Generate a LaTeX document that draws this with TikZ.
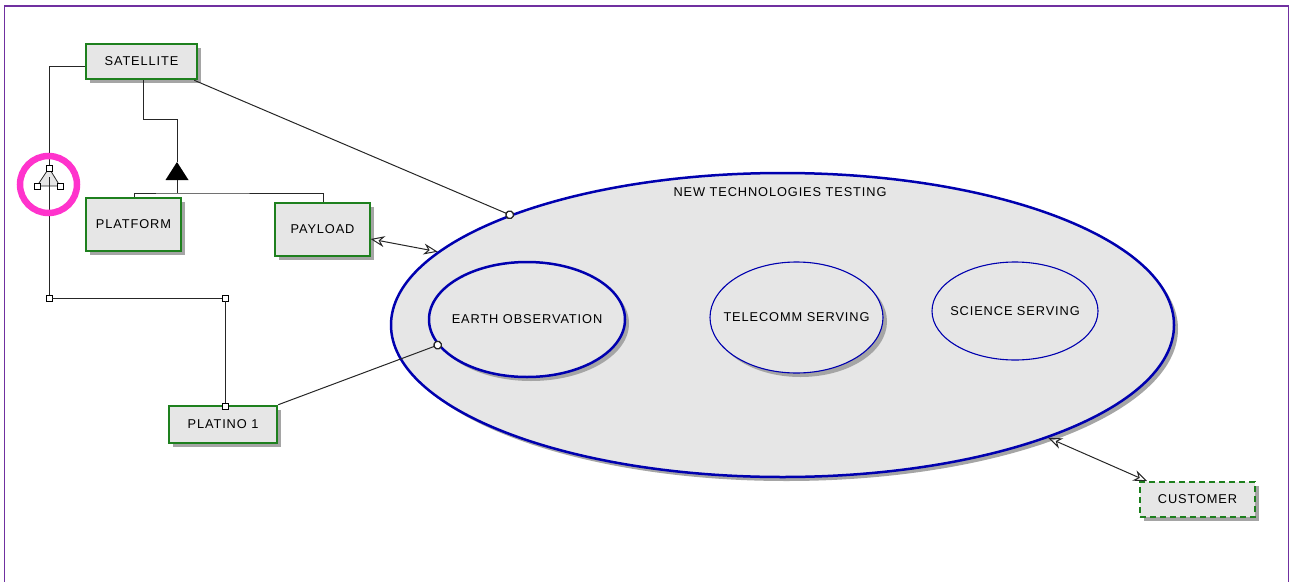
\documentclass[tikz,border=0pt]{standalone}
\usepackage{fontspec}
\setmainfont{Liberation Sans}[LetterSpace=7]
\usepackage{tikz}
\usetikzlibrary{shapes,arrows.meta,shadows,positioning}
\definecolor{umlgreen}{RGB}{30,128,30}
\definecolor{umlblue}{RGB}{0,0,175}
\definecolor{boxgray}{RGB}{230,230,230}
\definecolor{shadegray}{RGB}{165,165,165}
\definecolor{framepurple}{RGB}{112,48,160}
\definecolor{hilite}{RGB}{255,51,204}
\tikzset{
  shade4/.style={ drop shadow={shadow xshift=4pt, shadow yshift=-4pt, fill=shadegray, opacity=1} }
}
\tikzset{
  boxA/.style={ draw=umlgreen, line width=2.6pt, fill=boxgray, inner sep=0pt, shade4 }
}
\tikzset{
  boxB/.style={ draw=umlgreen, line width=1.2pt, fill=boxgray, inner sep=0pt, shade4 }
}
\tikzset{
  boxC/.style={ draw=umlgreen, line width=1.6pt, dash pattern=on 6pt off 4pt, fill=boxgray, inner sep=0pt, shade4 }
}
\tikzset{
  ellA/.style={ draw=umlblue, ellipse, line width=2.5pt, fill=boxgray, inner sep=0pt, shade4 }
}
\tikzset{
  ellB/.style={ draw=umlblue, ellipse, line width=1.1pt, fill=boxgray, inner sep=0pt }
}
\tikzset{
  sqpt/.style={ draw=black, fill=white, line width=0.7pt, minimum size=6pt, inner sep=0pt }
}
\tikzset{
  link/.style={ draw=black!85, line width=1pt }
}
\tikzset{
  oend/.style={ -{Circle[fill=white, length=9pt, line width=1.3pt]}, shorten >=-4.5pt }
}
\tikzset{
  bothopen/.style={ {Stealth[open, length=14pt, width=11pt]}-{Stealth[open, length=14pt, width=11pt]} }
}

\begin{document}
\begin{tikzpicture}[x=1pt, y=-1pt, every node/.style={font=\fontsize{12.8}{15}\selectfont}, every label/.style={font=\fontsize{12.8}{15}\selectfont}]
  \useasboundingbox (0,0) rectangle (1290,581);
  \draw[framepurple, line width=1.6pt] (4.5,585) -- (4.5,6) -- (1288.5,6) -- (1288.5,585);

  \node[ellA, minimum width=783pt, minimum height=304pt] (ntt) at (782.5,325) {};
  \node (nttlbl) at (780,192) {NEW TECHNOLOGIES TESTING};
  \node[ellA, minimum width=196pt, minimum height=115pt, label=center:EARTH OBSERVATION] (eo) at (527,319.5) {};
  \node[ellB, shade4, minimum width=173pt, minimum height=111pt, label=center:TELECOMM SERVING] (tel) at (796.5,317.5) {};
  \node[ellB, minimum width=166pt, minimum height=98pt, label=center:SCIENCE SERVING] (sci) at (1015,311) {};

  \node[boxA, minimum width=111pt, minimum height=35pt] (sat) at (141.5,61.5) {SATELLITE};
  \node[boxA, minimum width=95pt, minimum height=53pt] (plat) at (133.5,224.5) {PLATFORM};
  \node[boxB, minimum width=95pt, minimum height=53pt] (pay) at (322.5,229.5) {PAYLOAD};
  \node[boxA, minimum width=108pt, minimum height=37pt] (plt) at (223,424.5) {PLATINO 1};
  \node[boxC, minimum width=115pt, minimum height=35pt] (cust) at (1197.5,499.5) {CUSTOMER};

  % generalization
  \coordinate (genbase) at (177,180);
  \coordinate (genbar) at (177,193);
  \draw[link] (sat.south -| 143,0) |- (177,119) -- (177,162);
  \fill[black] (177,162) -- (188.5,180) -- (165.5,180) -- cycle;
  \draw[link] (genbase) -- (genbar);
  \draw[link] (plat.north -| 134,0) |- (genbar) -| (pay.north -| 323,0);

  % aggregation
  \coordinate (agtop) at (49,168);
  \coordinate (agl) at (37,186);
  \coordinate (agr) at (60,186);
  \node[sqpt] (bendA) at (49,298) {};
  \node[sqpt] (bendB) at (225,298) {};
  \node[sqpt] (pltin) at (225,406) {};
  \draw[link] (sat.west |- 0,66) -| (agtop);
  \draw[black!85, fill=boxgray, line width=0.8pt] (agtop) -- (agr) -- (agl) -- cycle;
  \draw[link] (49,177) -- (bendA) -- (bendB) -- (pltin);
  \foreach \p in {agtop, agl, agr}
    \node[sqpt] at (\p) {};
  \draw[hilite, line width=6.5pt] (48.5,184.5) circle (28.5);

  % associations
  \draw[link, oend] ([xshift=-4pt]sat.south east) -- (ntt.158.4);
  \draw[link, oend] (plt.north east) -- (eo.196.8);
  \draw[link, bothopen] (pay.east |- 0,239) -- (ntt.168.8);
  \draw[link, bothopen] (ntt.337.5) -- ([xshift=8pt]cust.north west);
\end{tikzpicture}
\end{document}
